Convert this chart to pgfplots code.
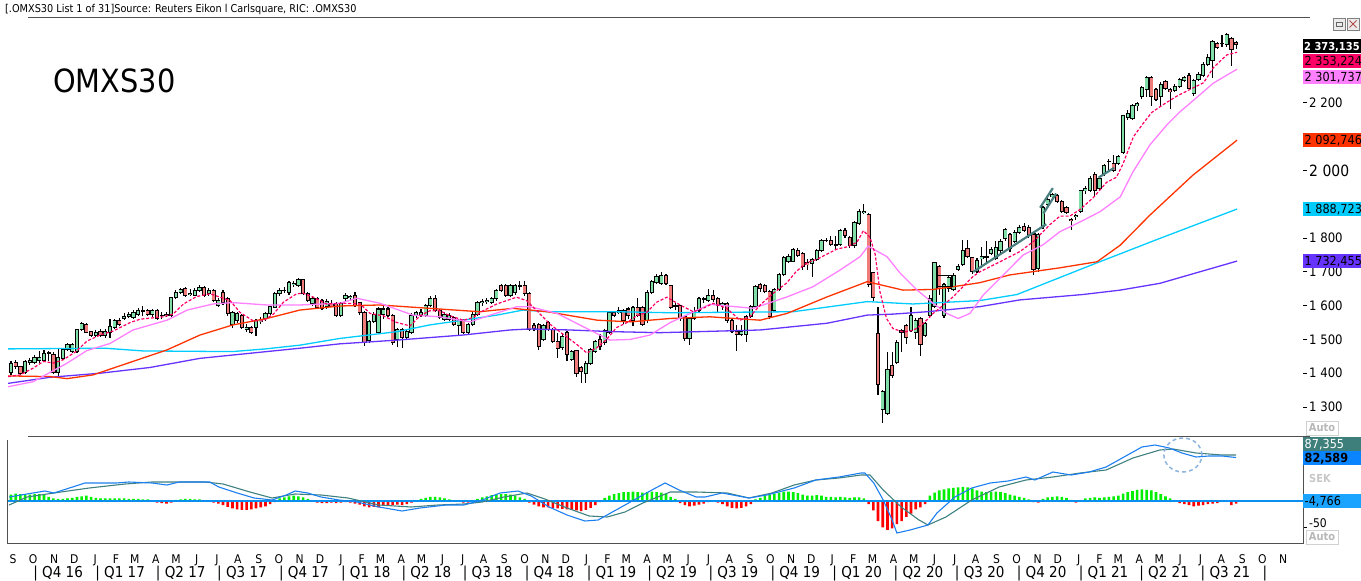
\documentclass[border=0pt]{standalone}
\usepackage{pgfplots}
\pgfplotsset{compat=1.18}
\usepackage{pgfplotstable}
\usepackage{fontspec}
\setmainfont{DejaVu Sans}[FakeStretch=0.9]
\definecolor{upc}{HTML}{80DFA6}
\definecolor{dnc}{HTML}{EF7B7B}
\definecolor{maA}{HTML}{FF0066}
\definecolor{maB}{HTML}{FF80FF}
\definecolor{maC}{HTML}{FF3300}
\definecolor{maD}{HTML}{00CCFF}
\definecolor{maE}{HTML}{6633FF}
\definecolor{macdc}{HTML}{1C7FF0}
\definecolor{sigc}{HTML}{3F8080}
\definecolor{hup}{HTML}{00EE00}
\definecolor{hdn}{HTML}{FF0000}
\definecolor{zline}{HTML}{0A8EF0}
\definecolor{trend}{HTML}{4A7F7F}
\definecolor{boxteal}{HTML}{3E7F7B}
\definecolor{boxblue}{HTML}{0A84FF}
\definecolor{boxzero}{HTML}{1AA3FF}
\definecolor{framec}{HTML}{505050}
\definecolor{ellc}{HTML}{8EB4E0}
\definecolor{autoc}{HTML}{B8B8B8}

\pgfplotstableread{
w O H L C
0 1403 1437 1395 1430
1 1433 1440 1412 1419
2 1420 1422 1395 1399
3 1403 1440 1398 1435
4 1433 1445 1425 1438
5 1433 1455 1428 1447
6 1439 1465 1430 1447
7 1439 1468 1433 1459
8 1460 1467 1435 1462
9 1455 1462 1398 1403
10 1403 1473 1387 1445
11 1445 1476 1440 1471
12 1470 1490 1465 1485
13 1463 1488 1460 1485
14 1463 1532 1460 1530
15 1529 1552 1525 1547
16 1545 1550 1518 1521
17 1522 1525 1508 1513
18 1513 1528 1508 1519
19 1522 1530 1508 1513
20 1513 1530 1505 1523
21 1520 1560 1505 1537
22 1535 1560 1530 1555
23 1557 1562 1540 1545
24 1563 1578 1558 1567
25 1569 1582 1562 1573
26 1565 1588 1560 1580
27 1575 1592 1570 1587
28 1583 1600 1570 1585
29 1585 1590 1570 1573
30 1573 1590 1565 1585
31 1585 1590 1558 1563
32 1570 1580 1560 1572
33 1571 1582 1565 1575
34 1570 1627 1565 1623
35 1625 1645 1620 1639
36 1639 1652 1635 1647
37 1650 1655 1625 1630
38 1632 1648 1628 1635
39 1631 1652 1628 1645
40 1646 1660 1640 1654
41 1654 1658 1626 1631
42 1636 1652 1630 1646
43 1646 1650 1610 1616
44 1601 1622 1596 1616
45 1640 1646 1602 1608
46 1620 1625 1570 1576
47 1545 1585 1535 1580
48 1556 1582 1550 1576
49 1571 1575 1530 1536
50 1530 1545 1522 1536
51 1536 1540 1515 1521
52 1536 1561 1511 1556
53 1552 1565 1545 1558
54 1561 1582 1555 1578
55 1576 1600 1572 1596
56 1596 1640 1592 1636
57 1636 1652 1630 1646
58 1644 1655 1638 1646
59 1638 1672 1632 1668
60 1662 1672 1655 1666
61 1661 1682 1656 1676
62 1676 1680 1632 1636
63 1636 1640 1610 1616
64 1606 1628 1600 1621
65 1621 1626 1592 1596
66 1616 1620 1586 1591
67 1598 1620 1590 1612
68 1605 1618 1595 1598
69 1605 1610 1565 1570
70 1570 1612 1565 1607
71 1620 1638 1615 1630
72 1625 1633 1618 1628
73 1630 1640 1595 1600
74 1610 1612 1572 1580
75 1580 1585 1482 1490
76 1497 1557 1490 1552
77 1552 1582 1548 1575
78 1520 1595 1515 1590
79 1575 1598 1560 1590
80 1590 1595 1565 1570
81 1570 1575 1485 1490
82 1500 1535 1477 1530
83 1530 1535 1475 1505
84 1507 1530 1497 1523
85 1520 1578 1515 1570
86 1570 1585 1562 1580
87 1572 1590 1565 1580
88 1570 1605 1565 1600
89 1600 1628 1595 1620
90 1620 1632 1580 1585
91 1585 1590 1560 1565
92 1560 1580 1555 1575
93 1560 1578 1555 1572
94 1565 1570 1540 1545
95 1540 1560 1510 1555
96 1555 1560 1515 1520
97 1520 1550 1515 1545
98 1545 1580 1540 1575
99 1575 1615 1570 1610
100 1608 1620 1600 1612
101 1611 1622 1605 1615
102 1610 1625 1605 1620
103 1620 1650 1615 1645
104 1660 1665 1640 1645
105 1660 1665 1625 1630
106 1630 1665 1625 1660
107 1640 1665 1632 1660
108 1658 1673 1645 1660
109 1660 1673 1630 1635
110 1635 1640 1525 1530
111 1540 1548 1525 1532
112 1545 1550 1470 1480
113 1500 1545 1495 1540
114 1550 1555 1525 1530
115 1530 1535 1490 1495
116 1495 1520 1445 1473
117 1477 1515 1470 1510
118 1520 1525 1435 1455
119 1440 1470 1435 1465
120 1467 1470 1390 1400
121 1417 1420 1370 1405
122 1400 1435 1370 1430
123 1430 1475 1425 1470
124 1465 1498 1460 1495
125 1500 1515 1470 1480
126 1490 1530 1485 1525
127 1520 1585 1515 1580
128 1580 1585 1565 1570
129 1580 1595 1575 1585
130 1587 1590 1545 1555
131 1590 1595 1560 1570
132 1555 1600 1540 1595
133 1595 1622 1565 1570
134 1595 1600 1540 1545
135 1555 1645 1550 1640
136 1640 1675 1635 1670
137 1670 1695 1665 1685
138 1665 1700 1660 1690
139 1690 1695 1660 1665
140 1659 1662 1590 1594
141 1598 1607 1587 1600
142 1599 1602 1555 1562
143 1567 1570 1495 1502
144 1502 1565 1484 1562
145 1562 1597 1558 1582
146 1587 1625 1582 1622
147 1618 1627 1607 1620
148 1614 1650 1610 1630
149 1629 1645 1612 1619
150 1620 1625 1577 1602
151 1603 1610 1587 1606
152 1607 1612 1550 1557
153 1557 1560 1520 1524
154 1524 1542 1467 1514
155 1514 1542 1510 1524
156 1514 1572 1492 1567
157 1567 1602 1562 1597
158 1597 1660 1592 1657
159 1662 1667 1640 1650
160 1660 1665 1637 1642
161 1642 1645 1560 1567
162 1587 1652 1580 1647
163 1647 1697 1642 1692
164 1692 1747 1688 1742
165 1730 1752 1725 1744
166 1732 1772 1728 1767
167 1764 1770 1745 1750
168 1754 1758 1705 1717
169 1727 1737 1707 1722
170 1724 1742 1684 1737
171 1737 1768 1732 1764
172 1764 1797 1760 1792
173 1792 1800 1787 1794
174 1794 1807 1777 1782
175 1782 1807 1764 1780
176 1782 1827 1777 1822
177 1822 1830 1800 1807
178 1802 1806 1770 1777
179 1777 1852 1772 1847
180 1844 1885 1840 1880
181 1876 1902 1872 1880
182 1870 1875 1655 1662
183 1697 1700 1615 1624
184 1517 1597 1337 1367
185 1292 1350 1252 1347
186 1280 1462 1277 1412
187 1422 1462 1387 1394
188 1432 1497 1427 1492
189 1522 1532 1462 1527
190 1542 1547 1487 1505
191 1527 1597 1522 1572
192 1522 1562 1502 1557
193 1562 1567 1452 1484
194 1512 1552 1507 1547
195 1572 1632 1567 1622
196 1597 1730 1592 1727
197 1717 1720 1632 1652
198 1572 1667 1562 1662
199 1652 1690 1640 1684
200 1647 1697 1642 1690
201 1707 1722 1702 1717
202 1722 1794 1717 1764
203 1770 1794 1742 1747
204 1742 1745 1695 1700
205 1702 1740 1697 1734
206 1740 1775 1710 1744
207 1742 1790 1730 1744
208 1754 1775 1750 1767
209 1740 1790 1735 1773
210 1762 1797 1755 1790
211 1798 1830 1790 1824
212 1810 1815 1760 1770
213 1790 1825 1785 1815
214 1818 1840 1812 1830
215 1835 1845 1818 1823
216 1832 1840 1800 1808
217 1812 1815 1690 1708
218 1710 1815 1700 1810
219 1833 1895 1828 1890
220 1900 1920 1893 1915
221 1923 1932 1915 1928
222 1925 1930 1903 1908
223 1908 1912 1875 1880
224 1890 1895 1872 1877
225 1855 1858 1825 1852
226 1863 1872 1855 1868
227 1878 1943 1873 1940
228 1940 1955 1930 1947
229 1940 1985 1935 1975
230 1987 1995 1925 1940
231 1948 1980 1942 1975
232 1990 2020 1985 2015
233 2026 2033 2000 2028
234 2022 2045 1995 2000
235 2020 2045 2015 2040
236 2052 2165 2048 2162
237 2157 2178 2150 2168
238 2155 2198 2150 2192
239 2193 2202 2175 2197
240 2218 2250 2212 2246
241 2240 2280 2218 2276
242 2276 2280 2192 2220
243 2240 2245 2205 2210
244 2218 2262 2190 2255
245 2262 2268 2238 2242
246 2240 2245 2182 2233
247 2237 2255 2232 2250
248 2250 2275 2245 2268
249 2268 2280 2262 2275
250 2282 2288 2240 2243
251 2227 2270 2222 2267
252 2270 2293 2265 2285
253 2282 2320 2278 2315
254 2315 2345 2310 2333
255 2327 2385 2275 2382
256 2375 2380 2360 2365
257 2375 2402 2365 2377
258 2372 2408 2365 2402
259 2392 2395 2308 2357
260 2380 2384 2360 2373
}\ohlc

\pgfplotstableread[row sep=\\]{
w h\\ 0 12\\ 1 14\\ 2 13\\ 3 12\\ 4 12\\ 5 13\\ 6 13\\ 7 11\\ 8 8\\ 9 5\\
10 4\\ 11 4\\ 12 5\\ 13 6\\ 14 8\\ 15 9\\ 16 10\\ 17 8\\ 18 6\\ 19 5\\
20 5\\ 21 5\\ 22 5\\ 23 5\\ 24 5\\ 25 4\\ 26 4\\ 27 4\\ 28 3\\ 29 3\\
30 1\\ 31 -3\\ 32 -4\\ 33 -5\\ 34 -3\\ 35 2\\ 36 3\\ 37 4\\ 38 4\\ 39 3\\
40 3\\ 41 1\\ 42 -1\\ 43 -3\\ 44 -5\\ 45 -8\\ 46 -11\\ 47 -14\\ 48 -16\\ 49 -17\\
50 -17\\ 51 -16\\ 52 -14\\ 53 -12\\ 54 -10\\ 55 -6\\ 56 -2\\ 57 5\\ 58 7\\ 59 9\\
60 10\\ 61 9\\ 62 7\\ 63 4\\ 64 1\\ 65 -3\\ 66 -4\\ 67 -4\\ 68 -3\\ 69 -4\\
70 -3\\ 71 -2\\ 72 -3\\ 73 -5\\ 74 -7\\ 75 -10\\ 76 -12\\ 77 -11\\ 78 -12\\ 79 -9\\
80 -8\\ 81 -8\\ 82 -7\\ 83 -8\\ 84 -6\\ 85 -3\\ 86 1\\ 87 4\\ 88 6\\ 89 8\\
90 8\\ 91 7\\ 92 5\\ 93 3\\ 94 1\\ 95 0\\ 96 -3\\ 97 -3\\ 98 1\\ 99 4\\
100 7\\ 101 9\\ 102 11\\ 103 12\\ 104 13\\ 105 13\\ 106 12\\ 107 10\\ 108 7\\ 109 4\\
110 -3\\ 111 -7\\ 112 -10\\ 113 -12\\ 114 -12\\ 115 -13\\ 116 -14\\ 117 -15\\ 118 -16\\ 119 -17\\
120 -18\\ 121 -19\\ 122 -17\\ 123 -13\\ 124 -8\\ 125 -2\\ 126 6\\ 127 10\\ 128 13\\ 129 15\\
130 17\\ 131 17\\ 132 18\\ 133 17\\ 134 16\\ 135 17\\ 136 18\\ 137 17\\ 138 16\\ 139 13\\
140 8\\ 141 4\\ 142 -4\\ 143 -8\\ 144 -10\\ 145 -9\\ 146 -7\\ 147 -5\\ 148 -2\\ 149 -1\\
150 -3\\ 151 -6\\ 152 -10\\ 153 -13\\ 154 -14\\ 155 -13\\ 156 -10\\ 157 -6\\ 158 3\\ 159 6\\
160 10\\ 161 12\\ 162 14\\ 163 16\\ 164 18\\ 165 18\\ 166 17\\ 167 15\\ 168 12\\ 169 10\\
170 10\\ 171 11\\ 172 10\\ 173 8\\ 174 8\\ 175 7\\ 176 8\\ 177 7\\ 178 6\\ 179 7\\
180 7\\ 181 5\\ 182 -6\\ 183 -18\\ 184 -38\\ 185 -50\\ 186 -55\\ 187 -52\\ 188 -44\\ 189 -38\\
190 -30\\ 191 -24\\ 192 -16\\ 193 -12\\ 194 -6\\ 195 10\\ 196 16\\ 197 20\\ 198 22\\ 199 24\\
200 25\\ 201 26\\ 202 27\\ 203 26\\ 204 24\\ 205 20\\ 206 18\\ 207 17\\ 208 18\\ 209 18\\
210 17\\ 211 15\\ 212 12\\ 213 10\\ 214 8\\ 215 6\\ 216 3\\ 217 -2\\ 218 -3\\ 219 4\\
220 7\\ 221 8\\ 222 9\\ 223 8\\ 224 6\\ 225 2\\ 226 -3\\ 227 1\\ 228 5\\ 229 6\\
230 7\\ 231 6\\ 232 7\\ 233 8\\ 234 9\\ 235 10\\ 236 14\\ 237 17\\ 238 19\\ 239 21\\
240 22\\ 241 21\\ 242 20\\ 243 17\\ 244 13\\ 245 9\\ 246 5\\ 247 1\\ 248 -4\\ 249 -6\\
250 -8\\ 251 -10\\ 252 -9\\ 253 -8\\ 254 -6\\ 255 -5\\ 256 -4\\ 257 0\\ 258 0\\ 259 -8\\
260 -4.766\\
}\hist

\newcommand\valfont{\fontsize{12.5}{13}\selectfont}
\newcommand\valbox[4]{%
  \fill[#2] (1303,#1) rectangle (1361,#1+14);
  \node[anchor=base west, inner sep=0pt, text=#3, font=\valfont] at (1304.5,#1+11) {#4};}

\begin{document}
\begin{tikzpicture}[x=1pt,y=-1pt]
\useasboundingbox (0,0) rectangle (1361,581);

% ---------------- main price panel ----------------
\begin{axis}[at={(0pt,-17pt)}, anchor=north west, scale only axis,
  width=1303pt, height=415pt,
  xmin=-2.334, xmax=274.19, ymin=1226, ymax=2454.4,
  axis line style={draw=none}, xtick=\empty,
  ytick={1300,1400,1500,1600,1700,1800,2000,2200},
  yticklabels={1 300,1 400,1 500,1 600,1 700,1 800,{\fontsize{15.5}{16}\selectfont 2 000},2 200},
  ytick pos=right, yticklabel pos=right, tick align=outside, major tick length=4pt,
  ytick style={black, line width=0.9pt},
  yticklabel style={font=\fontsize{13}{14}\selectfont, anchor=west, inner sep=0pt, xshift=2pt},
]
% wicks
\addplot[draw=none, mark=none, forget plot, error bars/.cd, y dir=both, y explicit, error mark=none,
  error bar style={draw=black, line width=1.1pt}]
  table[x=w, y expr={(\thisrow{H}+\thisrow{L})/2}, y error expr={(\thisrow{H}-\thisrow{L})/2}] {\ohlc};
% body outlines
\addplot[draw=none, mark=none, forget plot, error bars/.cd, y dir=both, y explicit, error mark=none,
  error bar style={draw=black, line width=4.2pt}]
  table[x=w, y expr={(\thisrow{O}+\thisrow{C})/2}, y error expr={abs(\thisrow{C}-\thisrow{O})/2+1.6}] {\ohlc};
% up bodies
\addplot[draw=none, mark=none, forget plot, error bars/.cd, y dir=both, y explicit, error mark=none,
  error bar style={draw=upc, line width=2.5pt}]
  table[x=w, y expr={(\thisrow{O}+\thisrow{C})/2}, y error expr={\thisrow{C}>\thisrow{O} ? max(abs(\thisrow{C}-\thisrow{O})/2-1.4,0) : 0}] {\ohlc};
% down bodies
\addplot[draw=none, mark=none, forget plot, error bars/.cd, y dir=both, y explicit, error mark=none,
  error bar style={draw=dnc, line width=2.5pt}]
  table[x=w, y expr={(\thisrow{O}+\thisrow{C})/2}, y error expr={\thisrow{C}<\thisrow{O} ? max(abs(\thisrow{C}-\thisrow{O})/2-1.4,0) : 0}] {\ohlc};

% moving averages
\addplot[maE, line width=1.3pt] coordinates {(-0.6,1370) (8.3,1388) (18.9,1400) (29.5,1417) (40.1,1444) (50.7,1459) (61.3,1474) (69.8,1487) (81.9,1498) (95.9,1513) (105.9,1528) (110.1,1531) (118.6,1528) (127.8,1523) (137.7,1520) (159,1528) (173.2,1548) (181.7,1572) (187.2,1575) (194.4,1582) (205.6,1597) (214.1,1617) (227.5,1633) (235.4,1646) (243.8,1666) (260.2,1732)};
\addplot[maD, line width=1.3pt] coordinates {(-0.6,1472) (20,1474) (28,1466) (47,1464) (54,1472) (61.3,1483) (69.8,1503) (81.9,1523) (88.9,1543) (95.9,1557) (103.1,1572) (108.7,1587) (113.8,1582) (128.6,1582) (139.9,1579) (166,1582) (181.7,1612) (191.4,1605) (205.6,1615) (213.5,1633) (229.6,1722) (243.8,1799) (260.2,1886)};
\addplot[maC, line width=1.3pt] coordinates {(-0.6,1392) (8.3,1390) (11.9,1384) (17.4,1395) (22.5,1419) (33.1,1469) (40.1,1513) (47.1,1543) (54.3,1562) (61.3,1587) (69.8,1599) (78.3,1602) (88.9,1592) (99.5,1582) (106.5,1592) (113.8,1582) (124.4,1557) (131.4,1552) (139.9,1562) (148.3,1567) (159,1557) (164.7,1577) (173.2,1626) (181.7,1671) (189.3,1646) (195.7,1648) (201.4,1659) (205.6,1668) (212,1691) (222.6,1712) (230.5,1730) (235.4,1779) (241.7,1868) (250.8,1986) (260.2,2090)};
\addplot[maB, line width=1.3pt] coordinates {(-0.6,1360) (4.7,1375) (11.8,1429) (16.1,1467) (21,1488) (25.9,1528) (33.1,1557) (37.4,1587) (42.9,1605) (47.1,1609) (54.3,1602) (61.3,1602) (69.8,1607) (73.4,1622) (78.3,1607) (85.3,1572) (91,1567) (97.4,1552) (101.7,1572) (107.4,1597) (110.1,1597) (115.9,1577) (121.4,1538) (127.1,1498) (131.4,1500) (135.6,1513) (139.9,1550) (148.3,1604) (157.5,1592) (164.7,1626) (170.2,1656) (175.9,1705) (180.2,1745) (181.9,1776) (185.9,1745) (188.7,1696) (192.3,1646) (195.7,1607) (198.6,1577) (201,1562) (203.5,1577) (206.3,1631) (214.8,1750) (219,1780) (222.6,1819) (226.9,1848) (231.1,1878) (235.4,1922) (238.1,1996) (241.7,2076) (245.3,2135) (248.1,2174) (252.3,2224) (255.1,2258) (258.1,2283) (260.2,2300)};
\addplot[maA, line width=1.2pt, dash pattern=on 3pt off 1.8pt] coordinates {(-0.6,1390) (1.9,1395) (4.7,1415) (6.9,1435) (9,1430) (11.1,1440) (13.9,1465) (16.1,1495) (18.9,1513) (21.7,1525) (25.3,1550) (27.4,1560) (29.5,1563) (32.3,1567) (34.4,1575) (36.6,1605) (39.4,1627) (42.2,1635) (44.4,1625) (46.5,1615) (48.6,1580) (51.4,1555) (53.5,1555) (55.7,1575) (57.8,1610) (60.6,1635) (62,1637) (64.2,1625) (67,1605) (70.5,1607) (74.1,1605) (76.2,1577) (79,1570) (81.9,1550) (84.7,1540) (86.8,1570) (88.9,1585) (91,1585) (93.2,1570) (96,1557) (98.1,1565) (100.2,1585) (103.1,1605) (105.2,1615) (107.3,1625) (109.4,1615) (111.6,1585) (114.4,1545) (117.2,1515) (120.1,1485) (122.2,1460) (124.3,1475) (126.4,1500) (128.5,1535) (130.7,1550) (132.8,1570) (134.9,1580) (137,1610) (139.2,1625) (142,1602) (144.8,1582) (146.9,1592) (149,1607) (151.9,1592) (154.7,1557) (156.8,1567) (159,1602) (161.8,1637) (164.6,1667) (166.7,1702) (168.9,1727) (171,1737) (173.1,1752) (175.2,1767) (177.4,1774) (179.5,1787) (180.9,1822) (182.3,1802) (183.4,1752) (184.4,1642) (185.8,1562) (187.2,1532) (189.4,1522) (191.5,1527) (193.6,1547) (195.7,1577) (197.9,1602) (200,1627) (202.1,1657) (204.2,1687) (205.6,1700) (209.9,1730) (214.1,1760) (217,1790) (218.4,1810) (220.5,1840) (222.6,1865) (224.7,1865) (226.9,1885) (229.7,1920) (232.5,1965) (234.6,1980) (236,2020) (238.2,2100) (240.3,2140) (242.1,2172) (244.5,2195) (247.4,2220) (250.2,2240) (253.1,2260) (255.2,2305) (258,2342) (260.2,2350)};

% drawn annotations
\draw[trend, line width=2.2pt] (axis cs:204.2,1700) -- (axis cs:219.7,1841);
\draw[trend, line width=2.2pt] (axis cs:218.4,1890) -- (axis cs:221.1,1948);
\draw[trend, line width=2.2pt] (axis cs:219.1,1873) -- (axis cs:221.8,1932);
\draw[trend, line width=2.2pt] (axis cs:230.8,1979) -- (axis cs:234.1,2008);
\draw[black, line width=1pt] (axis cs:196.5,1656) rectangle (axis cs:199.7,1688);
\end{axis}

% ---------------- MACD panel ----------------
\begin{axis}[at={(7pt,-436pt)}, anchor=north west, scale only axis,
  width=1296pt, height=107pt,
  xmin=-0.849, xmax=274.19, ymin=-79.8, ymax=123.5,
  axis line style={draw=none},
  xtick={0.429,4.714,9.143,13.429,17.857,22.286,26.286,30.714,35,39.429,43.714,48.143,52.571,56.857,61.286,65.571,70,74.429,78.429,82.857,87.143,91.571,95.857,100.286,104.714,109,113.429,117.714,122.143,126.571,130.571,135,139.286,143.714,148,152.429,156.857,161.143,165.571,169.857,174.286,178.714,182.857,187.286,191.571,196,200.286,204.714,209.143,213.429,217.857,222.143,226.571,231,235,239.429,243.714,248.143,252.429,256.857,261.286,265.571,270},
  xticklabels={S,O,N,D,J,F,M,A,M,J,J,A,S,O,N,D,J,F,M,A,M,J,J,A,S,O,N,D,J,F,M,A,M,J,J,A,S,O,N,D,J,F,M,A,M,J,J,A,S,O,N,D,J,F,M,A,M,J,J,A,S,O,N},
  xtick style={draw=none},
  xticklabel style={font=\fontsize{12}{13}\selectfont, anchor=base, inner sep=0pt, yshift=-16pt},
  extra x ticks={4.714,17.857,30.714,43.714,56.857,70,82.857,95.857,109,122.143,135,148,161.143,174.286,187.286,200.286,213.429,226.571,239.429,252.429,265.571},
  extra x tick labels={{| Q4 16},{| Q1 17},{| Q2 17},{| Q3 17},{| Q4 17},{| Q1 18},{| Q2 18},{| Q3 18},{| Q4 18},{| Q1 19},{| Q2 19},{| Q3 19},{| Q4 19},{| Q1 20},{| Q2 20},{| Q3 20},{| Q4 20},{| Q1 21},{| Q2 21},{| Q3 21},{|}},
  extra x tick style={major tick length=0pt, xtick style={draw=none},
     xticklabel style={anchor=base west, yshift=-18pt, font=\fontsize{15}{16}\selectfont}},
  ytick={-50}, yticklabels={-50}, ytick pos=right, yticklabel pos=right,
  tick align=outside, major tick length=4pt,
  ytick style={black, line width=0.9pt},
  yticklabel style={font=\fontsize{12}{13}\selectfont, anchor=west, inner sep=0pt, xshift=2pt, yshift=4pt},
]
\addplot[ybar, bar width=2.6pt, fill=hup, draw=none, forget plot] table[x=w, y expr={max(\thisrow{h},0)}] {\hist};
\addplot[ybar, bar width=2.6pt, fill=hdn, draw=none, forget plot] table[x=w, y expr={min(\thisrow{h},0)}] {\hist};
\addplot[zline, line width=1.2pt] coordinates {(-0.849,0) (274.19,0)};
\addplot[sigc, line width=1.1pt] coordinates {(-0.4,-7.6) (3.4,7.6) (9.1,15.2) (16.6,24.7) (24.2,32.3) (29.9,36.1) (35.7,36.1) (41.2,36.1) (45,32.3) (50.7,17.1) (55.4,5.7) (60.3,13.3) (65.8,11.4) (71.5,5.7) (78.1,-7.6) (84.9,-11.4) (90.6,-7.6) (96.1,-5.7) (100,-1.9) (104.6,7.6) (109.5,15.2) (113.3,3.8) (118,-13.3) (122.7,-28.5) (126.5,-30.4) (130.3,-20.9) (134.1,-3.8) (139.9,17.1) (145.4,17.1) (152,15.2) (156.6,5.7) (161.5,15.2) (166.2,30.4) (170.8,39.9) (175.7,43.7) (180.4,49.4) (182.3,49.4) (185.1,20.9) (188.9,-11.4) (192.7,-36.1) (194.6,-45.6) (198.4,-30.4) (203.9,1.9) (209.7,26.6) (215.4,39.9) (221.1,45.6) (226.9,53.2) (232.4,58.9) (238.1,81.7) (243.8,96.9) (246.6,98.8) (251.5,91.2) (257,87.4) (260,87.4)};
\addplot[macdc, line width=1.1pt] coordinates {(-0.4,7.6) (3.4,13.3) (7.2,19) (9.1,15.2) (15.7,34.2) (22.3,34.2) (25,36.1) (29.9,34.2) (33.1,30.4) (35.7,36.1) (42.2,36.1) (44.1,26.6) (48,15.2) (51.6,5.7) (55.4,1.9) (58.4,11.4) (60.3,19) (63,15.2) (65.8,7.6) (69.6,1.9) (73.4,-1.9) (78.1,-11.4) (83,-19) (86.8,-13.3) (92.3,-7.6) (96.1,-7.6) (100,1.9) (103.8,15.2) (107.6,19) (110.4,9.5) (114.2,-11.4) (118,-26.6) (121.8,-38) (124.6,-36.1) (128.4,-17.1) (132.2,1.9) (136,20.9) (138.8,34.2) (141.8,20.9) (145.4,7.6) (147.3,7.6) (150.9,15.2) (156.6,5.7) (160.4,11.4) (166.2,24.7) (170.8,39.9) (175.7,45.6) (180.4,53.2) (181.2,53.2) (183.1,34.2) (185.1,1.9) (187,-36.1) (188,-60.8) (190.8,-55.1) (194.6,-45.6) (196.5,-22.8) (200.3,7.6) (203.9,24.7) (207.8,34.2) (211.6,38) (215.4,45.6) (217.3,39.9) (221.1,55.1) (225,49.4) (228.8,55.1) (232.4,64.6) (236.2,83.6) (240,102.6) (242.8,106.4) (245.8,100.7) (248.5,91.2) (251.5,83.6) (254.2,85.5) (257,85.5) (260,82.6)};
\draw[ellc, line width=1.5pt, dash pattern=on 4pt off 3pt] (axis cs:248.7,87.4) ellipse [x radius=19pt, y radius=17pt];
\end{axis}

% ---------------- frame, header and side labels ----------------
\node[anchor=base west, inner sep=0pt, font=\fontsize{10.8}{12}\selectfont] at (5,12) {[.OMXS30 List 1 of 31]Source: Reuters Eikon l Carlsquare, RIC: .OMXS30};
\draw[framec, line width=1pt] (28,17) -- (1310,17);
\draw[framec, line width=1pt] (28,436) -- (1310,436);
\draw[framec, line width=1pt] (7,440) -- (7,543) -- (1303,543) -- (1303,436);
\node[anchor=base west, inner sep=0pt, font=\fontsize{32}{34}\selectfont] at (53,92) {OMXS30};

% window icons
\draw[gray, fill=black!8] (1333,18) rectangle (1345,30);
\draw[gray!80!black] (1336,22) rectangle (1342,26);
\draw[gray, fill=black!8] (1347,18) rectangle (1359,30);
\draw[red!40!gray, line width=1pt] (1349.5,20.5) -- (1356.5,27.5) (1349.5,27.5) -- (1356.5,20.5);

% value boxes
\fill[black] (1303,39) rectangle (1361,53);
\node[anchor=base west, inner sep=0pt, text=white, font=\fontsize{11}{12}\selectfont\bfseries] at (1304,50) {2 373,135};
\valbox{54}{maA}{black}{2 353,224}
\valbox{70}{maB}{black}{2 301,737}
\valbox{133}{maC}{black}{2 092,746}
\valbox{202}{maD}{black}{1 888,723}
\valbox{254}{maE}{black}{1 732,455}
\valbox{437}{boxteal}{white}{87,355}
\fill[boxblue] (1303,451) rectangle (1361,465);
\node[anchor=base west, inner sep=0pt, text=black, font=\valfont\bfseries] at (1304.5,462) {82,589};
\node[anchor=base west, inner sep=0pt, text=black!22, font=\fontsize{11}{12}\selectfont\bfseries] at (1309,482) {SEK};
\valbox{494}{boxzero}{black}{-4,766}

% Auto boxes
\draw[black!18, fill=white] (1306,421) rectangle (1338,435);
\node[text=autoc, font=\fontsize{11}{12}\selectfont\bfseries, inner sep=0pt] at (1322,428) {Auto};
\draw[black!18, fill=white] (1306,530) rectangle (1338,544);
\node[text=autoc, font=\fontsize{11}{12}\selectfont\bfseries, inner sep=0pt] at (1322,537) {Auto};
\end{tikzpicture}
\end{document}
